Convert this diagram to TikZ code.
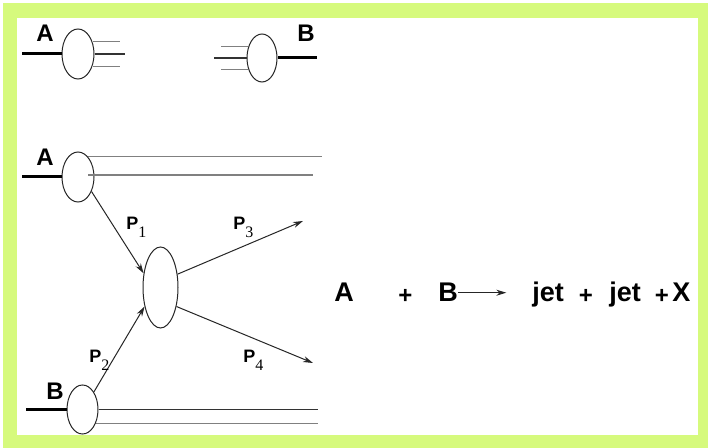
\documentclass[tikz,border=0pt]{standalone}
\usepackage{fontspec}
\setmainfont{Liberation Sans}
\newfontfamily\subserif{Liberation Serif}
\usetikzlibrary{shapes.geometric,arrows.meta}
\definecolor{framegreen}{RGB}{214,250,125}
\begin{document}
\begin{tikzpicture}[x=0.5pt,y=-0.5pt,
 blob/.style={draw=black!85,line width=0.5pt,ellipse,inner sep=0pt},
 beam/.style={line width=1.5pt,black},
 thinline/.style={line width=0.55pt,black!80},
 greyline/.style={line width=0.55pt,black!50},
 parrow/.style={line width=0.5pt,black!85,-{Stealth[length=5pt,width=3pt]}},
 lab/.style={font=\bfseries\fontsize{12}{12}\selectfont,inner sep=0pt,anchor=base west},
 plab/.style={font=\bfseries\fontsize{9}{9}\selectfont,inner sep=0pt,anchor=base west},
 eq/.style={font=\bfseries\fontsize{13.5}{14}\selectfont,inner sep=0pt,anchor=base},
 eqplus/.style={font=\bfseries\fontsize{12}{12}\selectfont,inner sep=0pt,anchor=base},
]
\newcommand{\psub}[1]{\raisebox{-4pt}{\subserif\mdseries\fontsize{8}{8}\selectfont #1}}
% frame
\useasboundingbox (0,0) rectangle (708,448);
\fill[white] (0,0) rectangle (708,448);
\fill[framegreen] (3,3) rectangle (708,448);
\fill[white] (17,18) rectangle (698,435);

% top-left group
\node[blob,minimum width=16pt,minimum height=25pt] (a1) at (78,54) {};
\node[lab] (la1) at (36,42) {A};
\coordinate (a1in) at (22,54);
\draw[beam] (a1in) -- (a1.west);
\draw[greyline] (a1.40) -- ++(27,0);
\draw[thinline] (a1.east) -- ++(30,0);
\draw[greyline] (a1.-40) -- ++(27,0);

% top-right group
\node[blob,minimum width=15pt,minimum height=24pt] (b1) at (262,58) {};
\node[lab] (lb1) at (297,42) {B};
\coordinate (b1out) at (317,58);
\draw[beam] (b1.east) -- (b1out);
\draw[greyline] (b1.140) -- ++(-27,0);
\draw[thinline] (b1.west) -- ++(-33,0);
\draw[greyline] (b1.-140) -- ++(-27,0);

% middle A
\node[blob,minimum width=16pt,minimum height=25pt] (a2) at (78,177) {};
\node[lab] (la2) at (36,166) {A};
\coordinate (a2in) at (22,177);
\draw[beam] (a2in) -- (a2.west);
\draw[greyline] (a2.64) -- ++(234,0);
\coordinate (a2s) at (88,175);
\coordinate (a2e) at (313,175);
\draw[greyline] (a2s) -- (a2e);

% central blob
\node[blob,minimum width=17.5pt,minimum height=40.5pt] (c) at (160.5,287.5) {};

% bottom B
\node[blob,minimum width=15.5pt,minimum height=24.5pt] (b2) at (82.5,409.5) {};
\node[lab] (lb2) at (46,400) {B};
\coordinate (b2in) at (26,409.5);
\draw[beam] (b2in) -- (b2.west);
\draw[thinline] (b2.east) -- ++(219,0);
\draw[greyline] (b2.-46) -- ++(222,0);

% arrows
\draw[parrow] (a2.-47) -- (c.140);
\draw[parrow] (b2.57) -- (c.-130);
\coordinate (p3end) at (303,221);
\coordinate (p4end) at (313,363);
\draw[parrow] (c.38) -- (p3end);
\draw[parrow] (c.-50) -- (p4end);

% momentum labels
\node[plab] (p1) at (126,230) {P\psub{1}};
\node[plab] (p3) at (233,230) {P\psub{3}};
\node[plab] (p2) at (89,363) {P\psub{2}};
\node[plab] (p4) at (243,363) {P\psub{4}};

% equation
\node[eq,anchor=base west] (eA) at (334,302) {A};
\node[eqplus] (pl1) at (405.5,304) {+};
\node[eq,anchor=base west] (eB) at (438,302) {B};
\draw[parrow] (eB.east) -- ++(48,0);
\node[eq,anchor=base west] (j1) at (532,302) {jet};
\node[eqplus] (pl2) at (586,304) {+};
\node[eq,anchor=base west] (j2) at (609,302) {jet};
\node[eqplus] (pl3) at (662,304) {+};
\node[eq,anchor=base west] (eX) at (672,302) {X};
\end{tikzpicture}
\end{document}
